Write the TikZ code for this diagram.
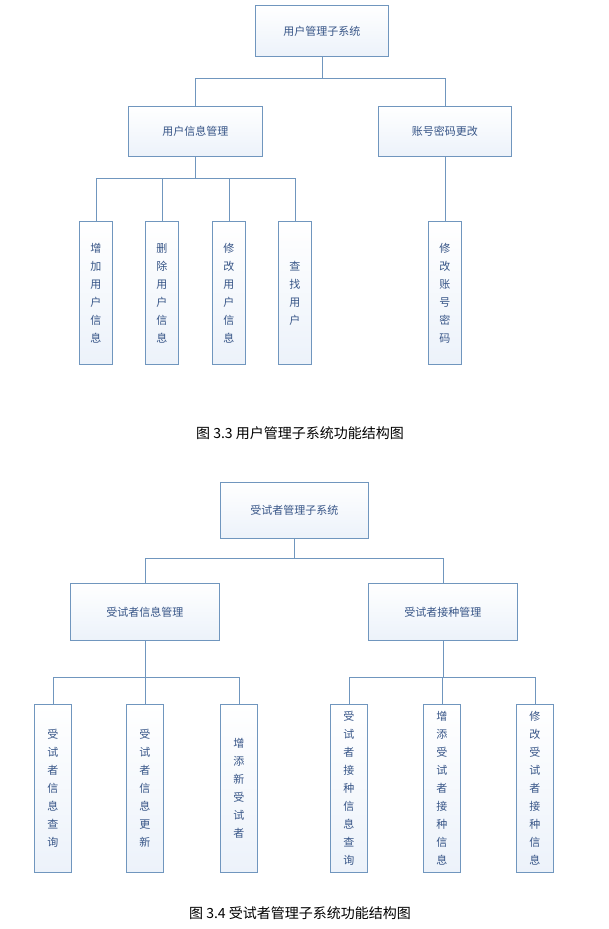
\documentclass[tikz,border=0pt]{standalone}
\usepackage{fontspec}
\newfontfamily\cjk{Noto Sans CJK SC}
\definecolor{boxline}{RGB}{112,150,190}
\definecolor{boxtext}{RGB}{55,85,135}
\definecolor{boxfill}{RGB}{236,242,250}
\newcommand{\vtext}[1]{\foreach \ch [count=\i] in {#1}{\ifnum\i>1 \\\fi\ch}}
\tikzset{
  fbox/.style={draw=boxline,thick,top color=white,bottom color=boxfill,
    text=boxtext,font=\cjk\fontsize{11}{18}\selectfont,inner sep=0pt,anchor=north west},
  vbox/.style={fbox,align=center},
  link/.style={draw=boxline,thick}
}
\begin{document}
\begin{tikzpicture}[x=1pt,y=-1pt]
  \useasboundingbox (0,0) rectangle (608,929);
  % figure 3.3
  \node[fbox,minimum width=133,minimum height=51] (root) at (255,5) {用户管理子系统};
  \node[fbox,minimum width=134,minimum height=50] (info) at (128,106) {用户信息管理};
  \node[fbox,minimum width=133,minimum height=50] (pwd) at (378,106) {账号密码更改};
  \node[vbox,minimum width=33,minimum height=143] (add) at (79,221) {增\\加\\用\\户\\信\\息};
  \node[vbox,minimum width=33,minimum height=143] (del) at (145,221) {删\\除\\用\\户\\信\\息};
  \node[vbox,minimum width=33,minimum height=143] (mod) at (212,221) {修\\改\\用\\户\\信\\息};
  \node[vbox,minimum width=33,minimum height=143] (find) at (278,221) {查\\找\\用\\户};
  \node[vbox,minimum width=33,minimum height=143] (modpwd) at (428,221) {修\\改\\账\\号\\密\\码};
  \draw[link] (root.south) -- ++(0,22) -| (info.north);
  \draw[link] (root.south) -- ++(0,22) -| (pwd.north);
  \foreach \leaf in {add,del,mod,find}
    \draw[link] (info.south) -- ++(0,22) -| (\leaf.north);
  \draw[link] (pwd.south) -- (modpwd.north);
  \node[font=\cjk\fontsize{14}{16}\selectfont] (cap1) at (300,433) {图 3.3 用户管理子系统功能结构图};
  % figure 3.4
  \node[fbox,minimum width=148,minimum height=56] (troot) at (220,482) {受试者管理子系统};
  \node[fbox,minimum width=149,minimum height=57] (tinfo) at (70,583) {受试者信息管理};
  \node[fbox,minimum width=149,minimum height=57] (tvac) at (368,583) {受试者接种管理};
  \node[vbox,minimum width=37,minimum height=168] (q1) at (34,704) {受\\试\\者\\信\\息\\查\\询};
  \node[vbox,minimum width=37,minimum height=168] (u1) at (126,704) {受\\试\\者\\信\\息\\更\\新};
  \node[vbox,minimum width=37,minimum height=168] (n1) at (220,704) {增\\添\\新\\受\\试\\者};
  \node[vbox,minimum width=37,minimum height=168] (q2) at (330,704) {受\\试\\者\\接\\种\\信\\息\\查\\询};
  \node[vbox,minimum width=37,minimum height=168] (n2) at (423,704) {增\\添\\受\\试\\者\\接\\种\\信\\息};
  \node[vbox,minimum width=37,minimum height=168] (m2) at (516,704) {修\\改\\受\\试\\者\\接\\种\\信\\息};
  \draw[link] (troot.south) -- ++(0,20) -| (tinfo.north);
  \draw[link] (troot.south) -- ++(0,20) -| (tvac.north);
  \foreach \leaf in {q1,u1,n1}
    \draw[link] (tinfo.south) -- ++(0,37) -| (\leaf.north);
  \foreach \leaf in {q2,n2,m2}
    \draw[link] (tvac.south) -- ++(0,37) -| (\leaf.north);
  \node[font=\cjk\fontsize{14}{16}\selectfont] (cap2) at (300,913) {图 3.4 受试者管理子系统功能结构图};
\end{tikzpicture}
\end{document}
